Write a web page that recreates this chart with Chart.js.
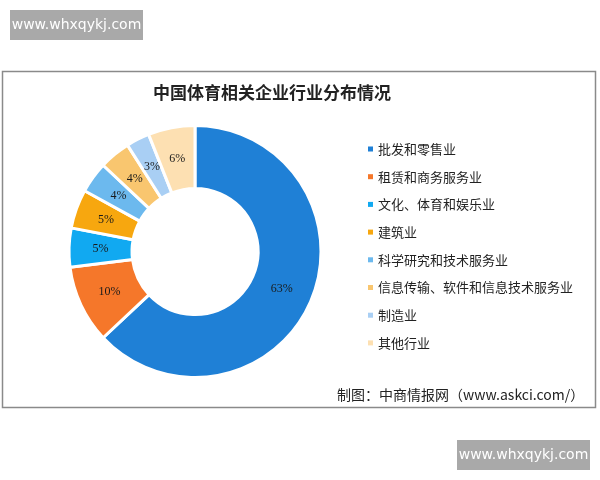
<!DOCTYPE html>
<html>
<head>
<meta charset="utf-8">
<script src="https://cdn.jsdelivr.net/npm/chart.js@4"></script>
<style>
html,body{margin:0;padding:0;background:#fff;}
#wrap{width:600px;height:480px;position:relative;}
</style>
</head>
<body>
<div id="wrap"><canvas id="c" width="600" height="480"></canvas></div>
<script>
const titleText = "中国体育相关企业行业分布情况";
const categories = ["批发和零售业","租赁和商务服务业","文化、体育和娱乐业","建筑业","科学研究和技术服务业","信息传输、软件和信息技术服务业","制造业","其他行业"];
const shares = [63,10,5,5,4,4,3,6];
const colors = ["#1f80d6","#f5772a","#11a9f1","#f7a70f","#6cb9ee","#f9c66f","#a9cff4","#fde0b2"];
const sourceText = "制图：中商情报网（www.askci.com/）";
const siteText = "www.whxqykj.com";

const FONT = '"Noto Sans CJK SC", "Noto Sans", sans-serif';

const decor = {
  id: 'decor',
  beforeDraw(chart) {
    const ctx = chart.ctx;
    ctx.save();
    ctx.fillStyle = '#fff';
    ctx.fillRect(0,0,chart.width,chart.height);
    // frame
    ctx.strokeStyle = '#8a8a8a';
    ctx.lineWidth = 1.5;
    ctx.strokeRect(2.5,71.5,593,336);
    // site boxes
    ctx.fillStyle = '#a9a9a9';
    ctx.fillRect(10,10,133,30);
    ctx.fillRect(457,440,133,30);
    ctx.fillStyle = '#ffffff';
    ctx.font = '14px "DejaVu Sans", sans-serif';
    ctx.textAlign = 'center';
    ctx.textBaseline = 'middle';
    ctx.fillText(siteText, 76.5, 25);
    ctx.fillText(siteText, 523.5, 455);
    // title
    ctx.fillStyle = '#222';
    ctx.font = 'bold 17px ' + FONT;
    ctx.fillText(titleText, 272, 93);
    // source
    ctx.font = '14px ' + FONT;
    ctx.textAlign = 'left';
    ctx.fillStyle = '#222';
    ctx.fillText(sourceText, 337, 395);
    // legend
    ctx.font = '13px ' + FONT;
    categories.forEach((c,i)=>{
      const y = 149 + i*27.7;
      ctx.fillStyle = colors[i];
      ctx.fillRect(368, y-2.5, 5, 5);
      ctx.fillStyle = '#222';
      ctx.fillText(c, 378, y);
    });
    ctx.restore();
  },
  afterDatasetsDraw(chart) {
    const ctx = chart.ctx;
    const meta = chart.getDatasetMeta(0);
    ctx.save();
    ctx.font = '12px "Liberation Serif", serif';
    ctx.fillStyle = '#1a1a1a';
    ctx.textAlign = 'center';
    ctx.textBaseline = 'middle';
    meta.data.forEach((arc,i)=>{
      const p = arc.tooltipPosition();
      ctx.fillText(shares[i] + '%', p.x, p.y);
    });
    ctx.restore();
  }
};

new Chart(document.getElementById('c'), {
  type: 'doughnut',
  data: {
    labels: categories,
    datasets: [{
      data: shares,
      backgroundColor: colors,
      borderColor: '#ffffff',
      borderWidth: 3,
      hoverOffset: 0
    }]
  },
  options: {
    responsive: false,
    animation: false,
    cutout: '50%',
    layout: { padding: { left: 67, right: 277, top: 124, bottom: 101 } },
    plugins: {
      legend: { display: false },
      tooltip: { enabled: false },
      title: { display: false }
    }
  },
  plugins: [decor]
});
</script>
</body>
</html>
